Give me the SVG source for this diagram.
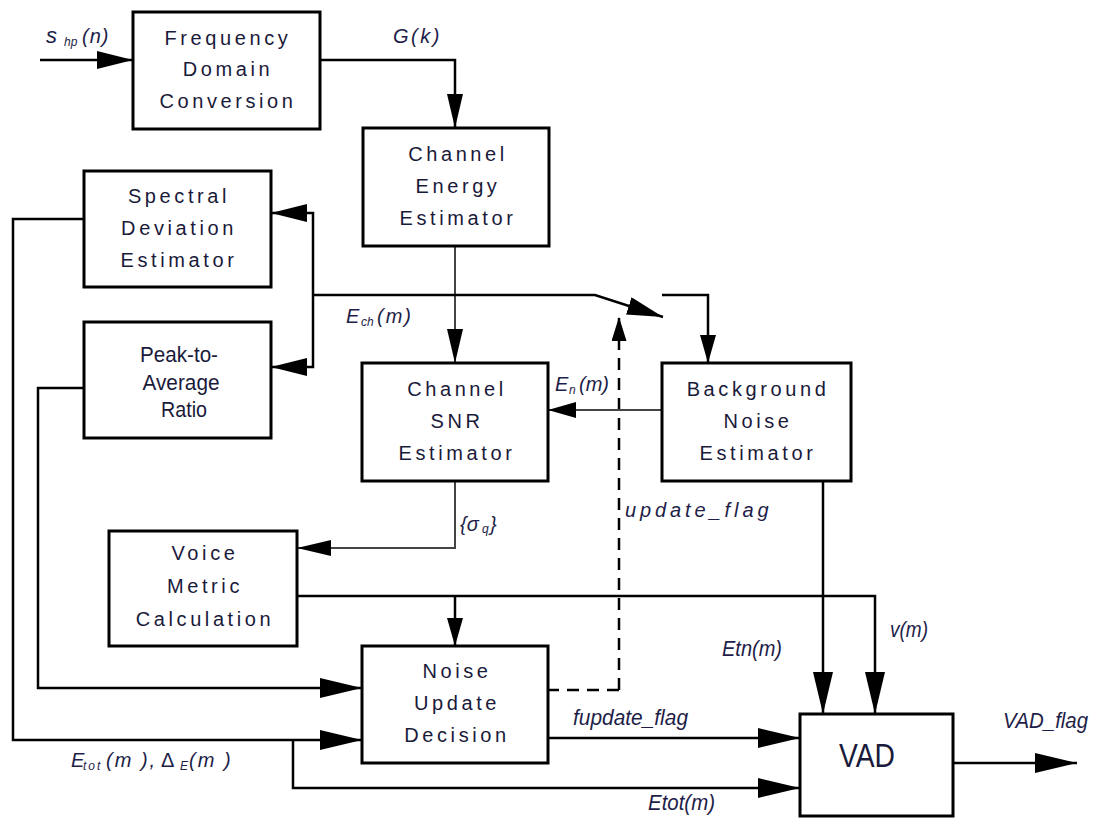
<svg xmlns="http://www.w3.org/2000/svg" width="1093" height="819" viewBox="0 0 1093 819">
<style>
.box{fill:#fff;stroke:#000;stroke-width:3}
.ln{fill:none;stroke:#000;stroke-width:2.5}
.thin{fill:none;stroke:#444;stroke-width:2}
.dash{fill:none;stroke:#000;stroke-width:2.5;stroke-dasharray:12 8}
.bt{font-family:"Liberation Sans",Arial,sans-serif;font-size:20px;letter-spacing:3.6px;text-anchor:middle;fill:#1a1a3a}
.pt{font-family:"Liberation Sans",Arial,sans-serif;font-size:22px;text-anchor:middle;fill:#1a1a3a}
.mi{font-family:"Liberation Sans",Arial,sans-serif;font-size:20px;font-style:italic;fill:#1e1e48}
.sub{font-family:"Liberation Sans",Arial,sans-serif;font-size:12px;font-style:italic;fill:#1e1e48}
.ci{font-family:"Liberation Sans",Arial,sans-serif;font-size:22px;font-style:italic;fill:#1e1e48}
</style>
<defs>
<marker id="aL" markerUnits="userSpaceOnUse" markerWidth="42" markerHeight="20" refX="42" refY="10" orient="auto"><path d="M0,0 L42,10 L0,20 z" fill="#000"/></marker>
<marker id="aM" markerUnits="userSpaceOnUse" markerWidth="36" markerHeight="18" refX="36" refY="9" orient="auto"><path d="M0,0 L36,9 L0,18 z" fill="#000"/></marker>
<marker id="aN" markerUnits="userSpaceOnUse" markerWidth="34" markerHeight="16" refX="34" refY="8" orient="auto"><path d="M0,0 L34,8 L0,16 z" fill="#000"/></marker>
<marker id="aS" markerUnits="userSpaceOnUse" markerWidth="28" markerHeight="16" refX="28" refY="8" orient="auto"><path d="M0,0 L28,8 L0,16 z" fill="#000"/></marker>
<marker id="aD" markerUnits="userSpaceOnUse" markerWidth="24" markerHeight="15" refX="24" refY="7.5" orient="auto"><path d="M0,0 L24,7.5 L0,15 z" fill="#000"/></marker>
</defs>

<g id="connectors">
<path class="ln" d="M40,60 H133" marker-end="url(#aM)"/>
<path class="ln" d="M320,60 H455 V128" marker-end="url(#aN)"/>
<path class="thin" d="M455,246 V363" marker-end="url(#aN)"/>
<path class="ln" d="M313,295 V213 H271" marker-end="url(#aM)"/>
<path class="ln" d="M313,295 V367 H271" marker-end="url(#aM)"/>
<path class="ln" d="M313,295 H595 L663,317" marker-end="url(#aM)"/>
<path class="ln" d="M662,295 H708 V363" marker-end="url(#aS)"/>
<path class="dash" d="M619,690 V317" marker-end="url(#aD)"/>
<path class="dash" d="M619,690 H548"/>
<path class="thin" d="M662,410 H548" marker-end="url(#aS)"/>
<path class="thin" d="M455,481 V548 H297" marker-end="url(#aN)"/>
<path class="ln" d="M297,596 H875 V714" marker-end="url(#aL)"/>
<path class="ln" d="M455,596 V646" marker-end="url(#aS)"/>
<path class="ln" d="M823,481 V714" marker-end="url(#aL)"/>
<path class="ln" d="M84,388 H38 V688 H362" marker-end="url(#aL)"/>
<path class="ln" d="M84,219 H13 V740 H362" marker-end="url(#aL)"/>
<path class="ln" d="M293,740 V788 H800" marker-end="url(#aL)"/>
<path class="ln" d="M548,738 H800" marker-end="url(#aL)"/>
<path class="ln" d="M953,763 H1077" marker-end="url(#aL)"/>
</g>

<g id="freq">
<rect class="box" x="133" y="12" width="187" height="117"/>
<text class="bt" x="228" y="45">Frequency</text>
<text class="bt" x="228" y="76">Domain</text>
<text class="bt" x="228" y="108">Conversion</text>
</g>

<g id="chEnergy">
<rect class="box" x="363" y="128" width="186" height="118"/>
<text class="bt" x="458" y="161">Channel</text>
<text class="bt" x="458" y="193">Energy</text>
<text class="bt" x="458" y="225">Estimator</text>
</g>

<g id="specDev">
<rect class="box" x="84" y="171" width="187" height="116"/>
<text class="bt" x="179" y="203">Spectral</text>
<text class="bt" x="179" y="235">Deviation</text>
<text class="bt" x="179" y="267">Estimator</text>
</g>

<g id="peakAvg">
<rect class="box" x="84" y="322" width="187" height="116"/>
<text class="pt" x="179" y="362" textLength="78" lengthAdjust="spacingAndGlyphs">Peak-to-</text>
<text class="pt" x="181" y="390" textLength="77" lengthAdjust="spacingAndGlyphs">Average</text>
<text class="pt" x="184" y="417" textLength="46" lengthAdjust="spacingAndGlyphs">Ratio</text>
</g>

<g id="chSNR">
<rect class="box" x="362" y="363" width="186" height="118"/>
<text class="bt" x="457" y="396">Channel</text>
<text class="bt" x="457" y="428">SNR</text>
<text class="bt" x="457" y="460">Estimator</text>
</g>

<g id="bgNoise">
<rect class="box" x="662" y="363" width="189" height="118"/>
<text class="bt" x="758" y="396">Background</text>
<text class="bt" x="758" y="428">Noise</text>
<text class="bt" x="758" y="460">Estimator</text>
</g>

<g id="voiceMetric">
<rect class="box" x="109" y="531" width="188" height="115"/>
<text class="bt" x="205" y="560">Voice</text>
<text class="bt" x="205" y="593">Metric</text>
<text class="bt" x="205" y="626">Calculation</text>
</g>

<g id="noiseUpdate">
<rect class="box" x="362" y="646" width="186" height="117"/>
<text class="bt" x="457" y="678">Noise</text>
<text class="bt" x="457" y="710">Update</text>
<text class="bt" x="457" y="742">Decision</text>
</g>

<g id="vad">
<rect class="box" x="800" y="714" width="153" height="102"/>
<text class="pt" x="867" y="767" style="font-size:34px" textLength="56" lengthAdjust="spacingAndGlyphs">VAD</text>
</g>

<g id="labels">
<text class="mi" x="46" y="43" style="font-size:22px">s</text>
<text class="sub" x="64" y="46">hp</text>
<text class="mi" x="82" y="43" style="letter-spacing:1px">(n)</text>
<text class="mi" x="393" y="43" style="letter-spacing:2.5px">G(k)</text>
<text class="mi" x="346" y="323">E</text>
<text class="sub" x="361" y="326">ch</text>
<text class="mi" x="377" y="323" style="letter-spacing:2px">(m)</text>
<text class="mi" x="555" y="391">E</text>
<text class="sub" x="569" y="394">n</text>
<text class="mi" x="579" y="391">(m)</text>
<text class="mi" x="460" y="531">{σ</text>
<text class="sub" x="482" y="533">q</text>
<text class="mi" x="490" y="531">}</text>
<text class="mi" x="625" y="517" style="letter-spacing:3.9px">update_flag</text>
<text class="mi" x="71" y="767">E</text>
<text class="sub" x="83" y="770" style="letter-spacing:2px">tot</text>
<text class="mi" x="106" y="767" style="letter-spacing:2px">(m ),</text>
<text style="font-family:'Liberation Sans',Arial,sans-serif;font-size:20px;fill:#1e1e48" x="161" y="767">Δ</text>
<text class="sub" x="180" y="770">E</text>
<text class="mi" x="189" y="767" style="letter-spacing:2px">(m )</text>
<text class="ci" x="573" y="725" textLength="115" lengthAdjust="spacingAndGlyphs">fupdate_flag</text>
<text class="ci" x="648" y="810" textLength="67" lengthAdjust="spacingAndGlyphs">Etot(m)</text>
<text class="ci" x="722" y="656" textLength="60" lengthAdjust="spacingAndGlyphs">Etn(m)</text>
<text class="ci" x="890" y="637" textLength="38" lengthAdjust="spacingAndGlyphs">v(m)</text>
<text class="ci" x="1003" y="728" textLength="85" lengthAdjust="spacingAndGlyphs">VAD_flag</text>
</g>
</svg>
